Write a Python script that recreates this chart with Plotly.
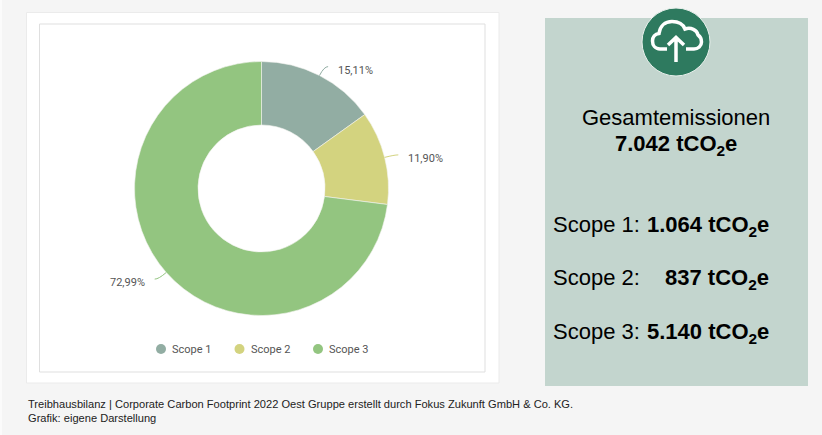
import math
import plotly.graph_objects as go

categories = ["Scope 1", "Scope 2", "Scope 3"]
shares = [15.11, 11.90, 72.99]
share_labels = ["15,11%", "11,90%", "72,99%"]
colors = ["#92ada3", "#d3d37f", "#93c580"]
summary_labels = ["Scope 1:", "Scope 2:", "Scope 3:"]
summary_values = ["1.064", "837", "5.140"]
total_value = "7.042"
W, H = 822, 435
CX, CY, R = 261.5, 188.5, 127
SANS = "Liberation Sans"
LABEL_FONT = "Roboto"

fig = go.Figure()
fig.add_trace(go.Pie(
    labels=categories, values=shares, hole=0.5, sort=False, direction="clockwise", rotation=0,
    marker=dict(colors=colors, line=dict(color="#f4f4f0", width=0.6)),
    textinfo="none", showlegend=False,
    domain=dict(x=[(CX - R) / W, (CX + R) / W], y=[1 - (CY + R) / H, 1 - (CY - R) / H]),
))

legend_x = [161, 239.5, 318]
fig.add_trace(go.Scatter(
    x=legend_x, y=[349] * 3, mode="markers", showlegend=False, hoverinfo="skip",
    marker=dict(size=10, color=colors),
))

def rect(x0, y0, x1, y1, fill, line=None, w=1):
    return dict(type="rect", xref="x", yref="y", x0=x0, y0=y0, x1=x1, y1=y1, fillcolor=fill,
                line=dict(color=line or fill, width=w if line else 0), layer="below")

shapes = [
    rect(0, 0, 2, H, "#fbfbfb"),
    rect(26.5, 12.5, 499, 383, "#ffffff", "#ebebeb"),
    rect(39.5, 24, 485, 372, "#ffffff", "#dfdfdf"),
    rect(545, 18, 808, 386, "#c3d5ce"),
    dict(type="circle", xref="x", yref="y", x0=642, y0=8, x1=710, y1=76,
         fillcolor="#2e7a5f", line=dict(color="#e8f0ec", width=1), layer="above"),
    dict(type="path", xref="x", yref="y", layer="above", line=dict(color="white", width=3.5),
         path="M 667,49 L 660,49 C 655,49 652.5,45 652.5,41 C 652.5,37 655,34 659,33.5 "
              "C 660,26 665,21.5 672,21.5 C 678,21.5 683,24 685,29 C 691,27 697,30 698,35 "
              "C 701,37 701.5,40 701.5,42 C 701.5,46 698,49 694,49 L 686,49"),
    dict(type="path", xref="x", yref="y", layer="above", line=dict(color="white", width=3.5),
         path="M 676,62 L 676,38 M 668,45 L 676,37.5 L 684,45"),
]

annotations = []
def note(x, y, text, size, color="#000000", family=SANS, anchor="left"):
    annotations.append(dict(x=x, y=y, xref="x", yref="y", text=text, showarrow=False, xanchor=anchor,
                            yanchor="middle", align=anchor, borderpad=0, borderwidth=0,
                            font=dict(size=size, color=color, family=family)))

# leader lines and percentage labels follow each slice's mid angle
total = sum(shares)
acc = 0
for share, lab, col in zip(shares, share_labels, colors):
    a = 2 * math.pi * (acc + share / 2) / total
    acc += share
    sx, sy = math.sin(a), -math.cos(a)
    p0 = (CX + R * sx, CY + R * sy)
    elbow = (CX + (R + 10) * sx, CY + (R + 10) * sy)
    side = 1 if sx > 0 else -1
    end = (elbow[0] + side * 4, elbow[1])
    shapes.append(dict(type="path", xref="x", yref="y", layer="above", line=dict(color=col, width=1),
                       path=f"M {p0[0]:.1f},{p0[1]:.1f} Q {elbow[0]:.1f},{elbow[1]:.1f} {end[0]:.1f},{end[1]:.1f}"))
    note(end[0] + side * 9.5, end[1] + 3.5, lab, 11, "#555555", LABEL_FONT, "left" if side > 0 else "right")

for x, c in zip(legend_x, categories):
    note(x + 11, 349, c, 11, "#555555", LABEL_FONT)

note(676, 117, "Gesamtemissionen", 22, anchor="center")
note(676, 144.5, f"<b>{total_value} tCO<sub>2</sub>e</b>", 22, anchor="center")
for y, lab, val in zip([225, 278, 332], summary_labels, summary_values):
    note(553, y - 1, lab, 22)
    note(769, y + 1, f"<b>{val} tCO<sub>2</sub>e</b>", 22, anchor="right")

note(28, 404, "Treibhausbilanz | Corporate Carbon Footprint 2022 Oest Gruppe erstellt durch Fokus Zukunft GmbH &amp; Co. KG.", 11.1, "#222222")
note(28, 418, "Grafik: eigene Darstellung", 11.1, "#222222")

fig.update_layout(
    width=W, height=H, margin=dict(l=0, r=0, t=0, b=0), paper_bgcolor="#f5f5f5", plot_bgcolor="rgba(0,0,0,0)",
    xaxis=dict(range=[0, W], visible=False, domain=[0, 1], fixedrange=True),
    yaxis=dict(range=[H, 0], visible=False, domain=[0, 1], fixedrange=True),
    shapes=shapes, annotations=annotations, showlegend=False,
)
fig.write_html("out.html", config=dict(displayModeBar=False),
               post_script="document.body.style.margin='0';")
